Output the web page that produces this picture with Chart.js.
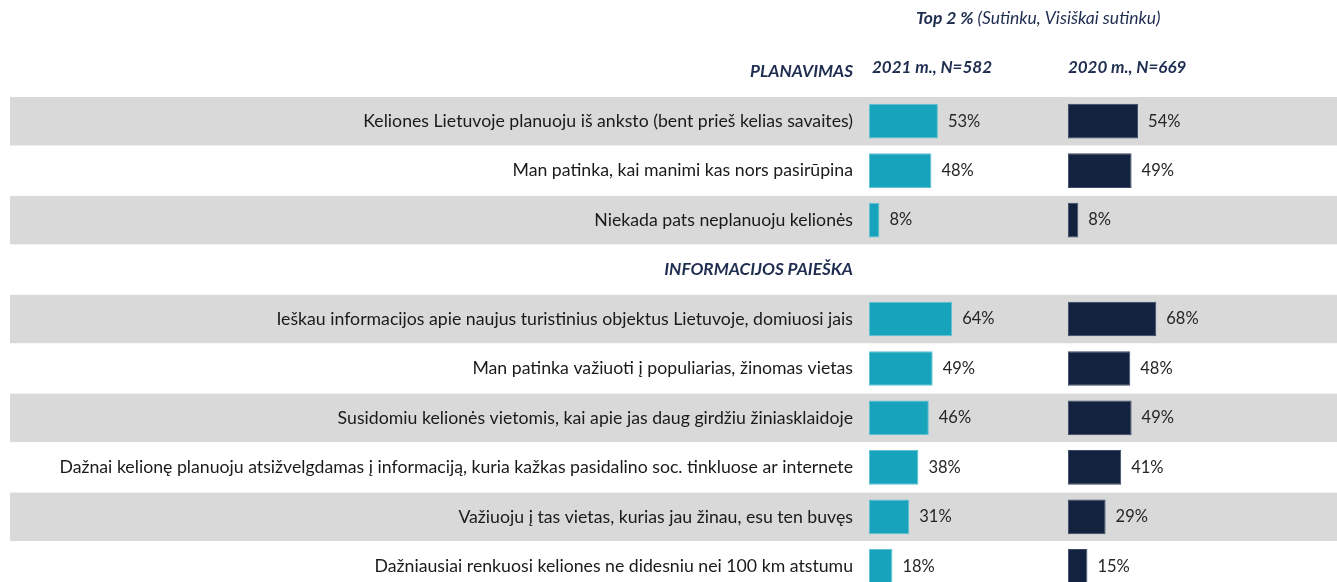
<!DOCTYPE html>
<html>
<head>
<meta charset="utf-8">
<script src="https://cdn.jsdelivr.net/npm/chart.js@4.4.1/dist/chart.umd.min.js"></script>
<style>
  html, body { margin: 0; padding: 0; background: #fff; overflow: hidden; }
  canvas { display: block; }
</style>
</head>
<body>
<canvas id="chart" width="1337" height="591"></canvas>
<script>
// rows, section headers included as their own categories
const categories = [
  'PLANAVIMAS',
  'Keliones Lietuvoje planuoju iš anksto (bent prieš kelias savaites)',
  'Man patinka, kai manimi kas nors pasirūpina',
  'Niekada pats neplanuoju kelionės',
  'INFORMACIJOS PAIEŠKA',
  'Ieškau informacijos apie naujus turistinius objektus Lietuvoje, domiuosi jais',
  'Man patinka važiuoti į populiarias, žinomas vietas',
  'Susidomiu kelionės vietomis, kai apie jas daug girdžiu žiniasklaidoje',
  'Dažnai kelionę planuoju atsižvelgdamas į informaciją, kuria kažkas pasidalino soc. tinkluose ar internete',
  'Važiuoju į tas vietas, kurias jau žinau, esu ten buvęs',
  'Dažniausiai renkuosi keliones ne didesniu nei 100 km atstumu'
];
const sections = ['PLANAVIMAS', 'INFORMACIJOS PAIEŠKA'];
const values2021 = [null, 53, 48, 8, null, 64, 49, 46, 38, 31, 18];
const values2020 = [null, 54, 49, 8, null, 68, 48, 49, 41, 29, 15];
const seriesLabels = ['2021 m., N=582', '2020 m., N=669'];

const TEAL = '#16a3bb';
const NAVY = '#12223f';
const HEAD = '#1f2d50';
const OFFSET_2020 = 153; // second column starts here on the shared x scale
const FONT = 'Lato, "Open Sans", sans-serif';

const bandsPlugin = {
  id: 'bands',
  beforeDraw(chart) {
    const {ctx} = chart;
    const y = chart.scales.y;
    const h = y.height / categories.length;
    ctx.save();
    ctx.fillStyle = '#d9d9d9';
    categories.forEach((c, i) => {
      if (i % 2 === 1) {
        const cy = y.getPixelForValue(i);
        ctx.fillRect(10, cy - h / 2 + 0.5, chart.width - 10, h - 1);
      }
    });
    ctx.restore();
  }
};

const labelsPlugin = {
  id: 'valueLabels',
  afterDatasetsDraw(chart) {
    const {ctx} = chart;
    ctx.save();
    ctx.font = '16.5px ' + FONT;
    ctx.fillStyle = '#262626';
    ctx.textBaseline = 'middle';
    ctx.textAlign = 'left';
    [values2021, values2020].forEach((vals, di) => {
      const meta = chart.getDatasetMeta(di);
      meta.data.forEach((el, i) => {
        if (vals[i] == null) return;
        ctx.fillText(vals[i] + '%', el.x + 10, el.y);
      });
    });

    // column headers and top note
    const x = chart.scales.x;
    const y0 = chart.scales.y.getPixelForValue(0);
    ctx.fillStyle = HEAD;
    ctx.font = 'italic bold 17px ' + FONT;
    ctx.fillText(seriesLabels[0], x.getPixelForValue(0) + 3, y0 - 4);
    ctx.fillText(seriesLabels[1], x.getPixelForValue(OFFSET_2020), y0 - 4);

    const t1 = 'Top 2 % ';
    const t2 = '(Sutinku, Visiškai sutinku)';
    ctx.font = 'italic bold 17.5px ' + FONT;
    const w1 = ctx.measureText(t1).width;
    ctx.fillText(t1, 916, 18);
    ctx.font = 'italic 17.5px ' + FONT;
    ctx.fillText(t2, 916 + w1, 18);
    ctx.restore();
  }
};

new Chart(document.getElementById('chart'), {
  type: 'bar',
  data: {
    labels: categories,
    datasets: [
      {
        label: seriesLabels[0],
        data: values2021.map(v => v == null ? null : [0, v]),
        backgroundColor: TEAL,
        borderColor: '#62c2d4',
        borderWidth: 1,
        borderSkipped: false,
        grouped: false,
        barPercentage: 0.7,
        categoryPercentage: 1
      },
      {
        label: seriesLabels[1],
        data: values2020.map(v => v == null ? null : [OFFSET_2020, OFFSET_2020 + v]),
        backgroundColor: NAVY,
        borderColor: '#3b4a66',
        borderWidth: 1,
        borderSkipped: false,
        grouped: false,
        barPercentage: 0.7,
        categoryPercentage: 1
      }
    ]
  },
  options: {
    indexAxis: 'y',
    responsive: false,
    animation: false,
    layout: {padding: {top: 47, left: 0, right: 0, bottom: 0}},
    plugins: {
      legend: {display: false},
      tooltip: {enabled: false}
    },
    scales: {
      x: {
        min: 0,
        max: 360,
        display: false
      },
      y: {
        grid: {display: false, drawTicks: false},
        border: {display: false},
        afterFit(scale) {
          scale.width = 869;
          scale.paddingTop = 0;
          scale.paddingBottom = 0;
        },
        ticks: {
          autoSkip: false,
          padding: 16,
          color: (ctx) => sections.includes(categories[ctx.index]) ? HEAD : '#1a1a1a',
          font: (ctx) => sections.includes(categories[ctx.index])
            ? {family: FONT, size: 17.2, weight: 'bold', style: 'italic'}
            : {family: FONT, size: 17.7}
        }
      }
    }
  },
  plugins: [bandsPlugin, labelsPlugin]
});
</script>
</body>
</html>
